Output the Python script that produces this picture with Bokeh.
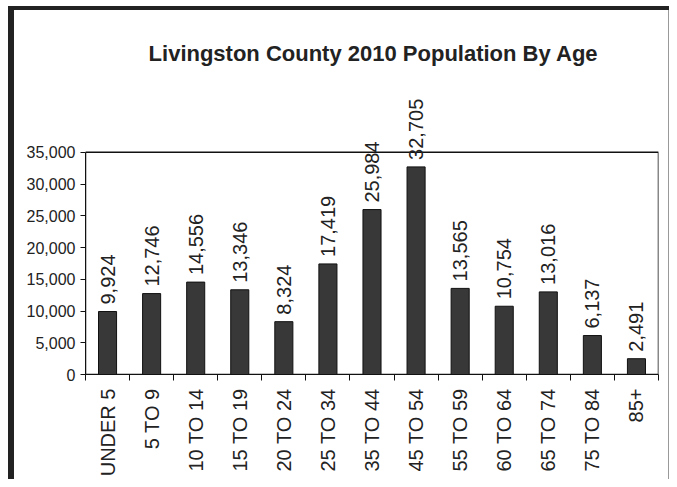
from math import pi
from bokeh.plotting import figure
from bokeh.layouts import column, row
from bokeh.models import (ColumnDataSource, Range1d, FixedTicker, NumeralTickFormatter,
                          LabelSet, Label, Div)
from bokeh.core.properties import value
from bokeh.embed import file_html
from bokeh.resources import INLINE

categories = ["UNDER 5", "5 TO 9", "10 TO 14", "15 TO 19", "20 TO 24", "25 TO 34",
              "35 TO 44", "45 TO 54", "55 TO 59", "60 TO 64", "65 TO 74", "75 TO 84", "85+"]
population = [9924, 12746, 14556, 13346, 8324, 17419, 25984, 32705, 13565, 10754,
              13016, 6137, 2491]
y_ticks = [0, 5000, 10000, 15000, 20000, 25000, 30000, 35000]
y_max = 35000
title_text = "Livingston County 2010 Population By Age"

REG = "Liberation Sans"

n = len(categories)
centers = [i + 0.5 for i in range(n)]
bounds = list(range(n + 1))

src = ColumnDataSource(dict(
    x=centers,
    y=population,
    lab=[f"{v:,}" for v in population],
))

W, H = 654, 469
BOTTOM = 102
FRAME_H = H - BOTTOM
TOP_PX = 143  # pixels from frame top to the 35,000 line
p = figure(width=W, height=H, output_backend="svg", toolbar_location=None,
           x_range=Range1d(0, n), y_range=Range1d(0, y_max * FRAME_H / (FRAME_H - TOP_PX)),
           min_border_left=71, min_border_right=10, min_border_top=0,
           min_border_bottom=BOTTOM)
p.background_fill_color = "white"
p.border_fill_color = "white"
p.outline_line_color = None
p.grid.visible = False

# plot-area box
p.quad(left=[0], right=[n], bottom=[0], top=[y_max], fill_color=None,
       line_color="#111111", line_width=1.5)

p.vbar(x="x", top="y", width=0.41, source=src, fill_color="#383838",
       line_color="#111111", line_width=1)

# x axis
xa = p.xaxis[0]
xa.ticker = FixedTicker(ticks=centers, minor_ticks=bounds)
xa.major_label_overrides = {c: lab for c, lab in zip(centers, categories)}
xa.major_tick_out = 0
xa.major_tick_in = 0
xa.minor_tick_out = 6
xa.minor_tick_in = 0
xa.minor_tick_line_color = "#111111"
xa.axis_line_color = "#111111"
xa.major_label_orientation = pi / 2
xa.major_label_standoff = 8
xa.major_label_text_font = REG
xa.major_label_text_font_size = "20px"
xa.major_label_text_color = "#222222"

# y axis
ya = p.yaxis[0]
ya.bounds = (0, y_max)
ya.ticker = FixedTicker(ticks=y_ticks)
ya.formatter = NumeralTickFormatter(format="0,0")
ya.major_tick_out = 5
ya.major_tick_in = 0
ya.minor_tick_line_color = None
ya.axis_line_color = "#111111"
ya.major_tick_line_color = "#111111"
ya.major_label_standoff = 5
ya.major_label_text_font = REG
ya.major_label_text_font_size = "16px"
ya.major_label_text_color = "#222222"

labels = LabelSet(x="x", y="y", text="lab", source=src, angle=pi / 2,
                  y_offset=7, text_align="left", text_baseline="middle",
                  text_font=value(REG), text_font_size=value("20px"),
                  text_color="#222222")
p.add_layout(labels)

title = Label(x=288, y=321, x_units="screen", y_units="screen", text=title_text,
              text_align="center", text_baseline="alphabetic", text_font=REG,
              text_font_size="22px", text_font_style="bold", text_color="#222222")
p.add_layout(title)

DARK = "#222222"
spacer_top = Div(text="", width=669, height=6, margin=0,
                 styles={"background-color": "white"})
spacer_left = Div(text="", width=8, height=4 + H, margin=0,
                  styles={"background-color": "white"})
top_bar = Div(text="", width=6 + W + 1, height=4, margin=0,
              styles={"background-color": DARK})
left_bar = Div(text="", width=6, height=H, margin=0,
               styles={"background-color": DARK})
right_bar = Div(text="", width=1, height=H, margin=0,
                styles={"background-color": "#999999"})
layout = column(
    spacer_top,
    row(spacer_left,
        column(top_bar, row(left_bar, p, right_bar, spacing=0), spacing=0),
        spacing=0),
    spacing=0)

open("out.html", "w").write(file_html(layout, INLINE))
